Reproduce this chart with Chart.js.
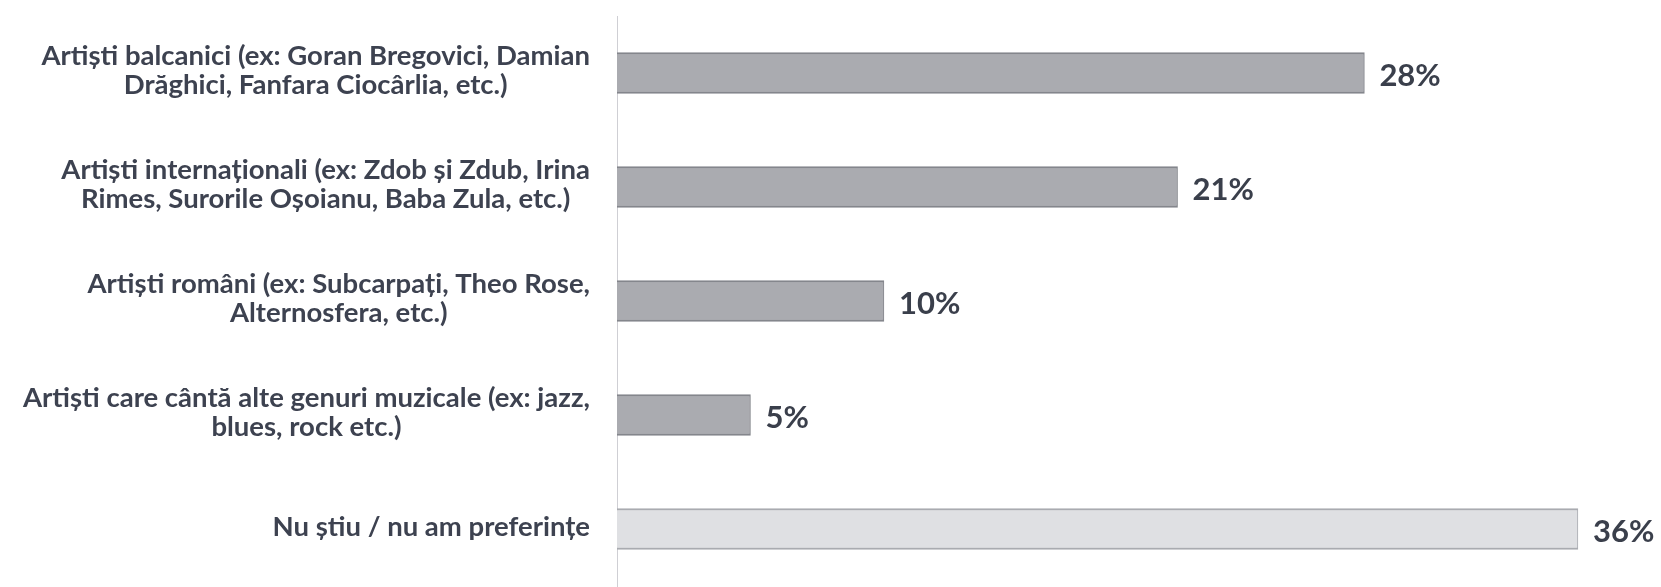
<!DOCTYPE html>
<html>
<head>
<meta charset="utf-8">
<script src="https://cdn.jsdelivr.net/npm/chart.js@4.4.1/dist/chart.umd.min.js"></script>
<style>
  html, body { margin: 0; padding: 0; background: #ffffff; }
  #wrap { width: 1661px; height: 587px; }
</style>
</head>
<body>
<div id="wrap"><canvas id="c" width="1661" height="587"></canvas></div>
<script>
const categories = [
  ["Artiști balcanici (ex: Goran Bregovici, Damian", "Drăghici, Fanfara Ciocârlia, etc.)"],
  ["Artiști internaționali (ex: Zdob și Zdub, Irina", "Rimes, Surorile Oșoianu, Baba Zula, etc.)"],
  ["Artiști români (ex: Subcarpați, Theo Rose,", "Alternosfera, etc.)"],
  ["Artiști care cântă alte genuri muzicale (ex: jazz,", "blues, rock etc.)"],
  ["Nu știu / nu am preferințe"]
];
const values = [28, 21, 10, 5, 36];
const valueSuffix = "%";

const barFill = ["#aaabb0", "#aaabb0", "#aaabb0", "#aaabb0", "#dfe0e3"];
const barEdge = ["#84868c", "#84868c", "#84868c", "#84868c", "#a9abb0"];

const LABEL_FONT = "bold 27.5px Lato, 'Open Sans', sans-serif";
const VALUE_FONT = "bold 31px Lato, 'Open Sans', sans-serif";
const TEXT_COLOR = "#3d4250";

const labelPlugin = {
  id: "customLabels",
  afterDatasetsDraw(chart) {
    const ctx = chart.ctx;
    const ys = chart.scales.y;
    const meta = chart.getDatasetMeta(0);
    ctx.save();
    // category labels: right-aligned block, centered lines
    ctx.font = LABEL_FONT;
    ctx.fillStyle = TEXT_COLOR;
    ctx.textAlign = "center";
    ctx.textBaseline = "middle";
    const rightEdge = ys.right - 27;
    const lh = 29;
    categories.forEach((lines, i) => {
      const yc = ys.getPixelForValue(i) - 2;
      const w = Math.max(...lines.map(l => ctx.measureText(l).width));
      const cx = rightEdge - w / 2;
      const y0 = yc - (lines.length - 1) * lh / 2;
      lines.forEach((l, k) => ctx.fillText(l, cx, y0 + k * lh));
    });
    // value labels
    ctx.font = VALUE_FONT;
    ctx.textAlign = "left";
    ctx.fillStyle = "#3a3f4b";
    meta.data.forEach((bar, i) => {
      ctx.fillText(values[i] + valueSuffix, bar.x + 15, bar.y + 3);
    });
    ctx.restore();
  }
};

new Chart(document.getElementById("c"), {
  type: "bar",
  data: {
    labels: categories.map(c => c.join(" ")),
    datasets: [{
      data: values,
      backgroundColor: barFill,
      borderColor: barEdge,
      borderWidth: { top: 2, bottom: 2, right: 1, left: 0 },
      borderSkipped: false,
      barThickness: 41
    }]
  },
  options: {
    indexAxis: "y",
    responsive: false,
    animation: false,
    layout: { padding: { top: 16, bottom: 1, left: 0, right: 3 } },
    plugins: {
      legend: { display: false },
      tooltip: { enabled: false },
      title: { display: false }
    },
    scales: {
      x: {
        display: false,
        min: 0,
        max: 39
      },
      y: {
        grid: { display: false, drawTicks: false },
        border: { display: true, color: "#cfcfd4", width: 1, dash: [3, 1] },
        ticks: { display: false },
        afterFit(scale) { scale.width = 617; }
      }
    }
  },
  plugins: [labelPlugin]
});
</script>
</body>
</html>
